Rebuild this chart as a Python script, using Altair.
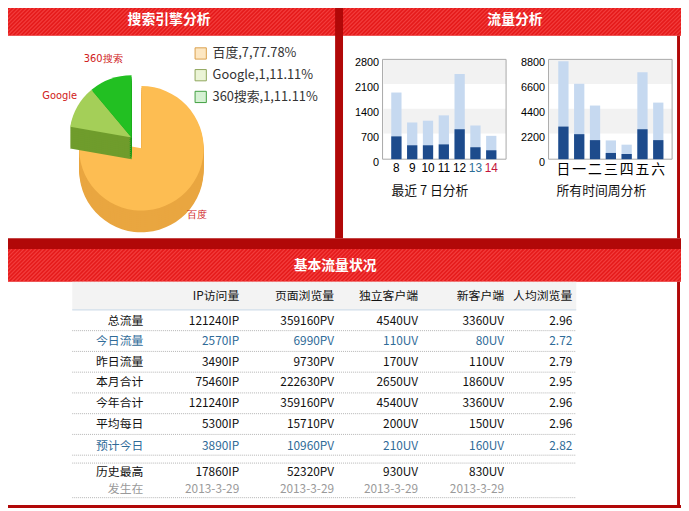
import math
import altair as alt
import numpy as np
import pandas as pd

# ---------------- data ----------------
engines = ["百度", "Google", "360搜索"]
engine_counts = [7, 1, 1]

days = ["8", "9", "10", "11", "12", "13", "14"]
day_pv = [1870, 1030, 1080, 1230, 2390, 945, 655]
day_ip = [640, 390, 390, 415, 840, 335, 250]
day_ticks = [0, 700, 1400, 2100, 2800]

weekdays = ["日", "一", "二", "三", "四", "五", "六"]
week_pv = [8630, 6650, 4730, 1655, 1280, 7670, 4990]
week_ip = [2875, 2205, 1680, 550, 460, 2640, 1680]
week_ticks = [0, 2200, 4400, 6600, 8800]

row_labels = ["总流量", "今日流量", "昨日流量", "本月合计", "今年合计",
              "平均每日", "预计今日", "历史最高", "发生在"]
col_headers = ["IP访问量", "页面浏览量", "独立客户端", "新客户端", "人均浏览量"]
ip_counts = [121240, 2570, 3490, 75460, 121240, 5300, 3890, 17860]
pv_counts = [359160, 6990, 9730, 222630, 359160, 15710, 10960, 52320]
uv_counts = [4540, 110, 170, 2650, 4540, 200, 210, 930]
new_counts = [3360, 80, 110, 1860, 3360, 150, 160, 830]
avg_views = [2.96, 2.72, 2.79, 2.95, 2.96, 2.96, 2.82]
peak_dates = ["2013-3-29", "2013-3-29", "2013-3-29", "2013-3-29"]
highlight_rows = ["今日流量", "预计今日"]

# ---------------- layout helpers ----------------
W, H = 681, 503
OFF = 8  # page margin


def cx(v):
    return v - OFF


def cy(v):
    return v - OFF


REFX = alt.Scale(domain=[OFF, OFF + W], range=[0, W], zero=False, nice=False)
REFY = alt.Scale(domain=[OFF, OFF + H], range=[0, H], zero=False, nice=False)
DUMMY = pd.DataFrame({"k": [0]})

RED = "#e51b1b"
STRIPE = "#ff6060"
DARK = "#b10808"
CJK = "Noto Sans CJK SC"


def rect_layer(rects):
    df = pd.DataFrame(rects, columns=["x1", "y1", "x2", "y2", "c"])
    return alt.Chart(df).mark_rect(strokeWidth=0).encode(
        x=alt.X("x1:Q", scale=REFX, axis=None), x2="x2:Q",
        y=alt.Y("y1:Q", scale=REFY, axis=None), y2="y2:Q",
        fill=alt.Fill("c:N", scale=None))


def frame_layer(rects, color):
    df = pd.DataFrame(rects, columns=["x1", "y1", "x2", "y2"])
    return alt.Chart(df).mark_rect(filled=False, stroke=color, strokeWidth=1).encode(
        x=alt.X("x1:Q", scale=REFX, axis=None), x2="x2:Q",
        y=alt.Y("y1:Q", scale=REFY, axis=None), y2="y2:Q")


def stripe_layer(y_top, y_bot):
    h = y_bot - y_top
    ks = np.arange(0, 689 + h + 4, 4)
    df = pd.DataFrame({"xa": ks, "xb": ks - h})
    return alt.Chart(df).mark_rule(color=STRIPE, strokeWidth=1.2, opacity=0.5).encode(
        x=alt.X("xa:Q", scale=REFX, axis=None), x2="xb:Q",
        y=alt.value(cy(y_top)), y2=alt.value(cy(y_bot)))


def text_at(x, y, s, **kw):
    return alt.Chart(DUMMY).mark_text(text=s, **kw).encode(
        x=alt.value(cx(x)), y=alt.value(cy(y)))


layers = []

# panel backgrounds / headers
layers.append(rect_layer([
    (0, 0, 689, 33, RED),
    (0, 249, 689, 282, RED),
    (73, 282, 583, 310, "#f3f3f3"),
    (388, 57, 512, 82, "#f2f2f2"), (388, 107, 512, 132, "#f2f2f2"),
    (556, 57, 680, 82, "#f2f2f2"), (556, 107, 680, 132, "#f2f2f2"),
]))
layers.append(stripe_layer(0, 33))
layers.append(stripe_layer(249, 282))
layers.append(rect_layer([
    (339, 0, 347, 238, DARK),
    (685, 33, 688, 238, DARK),
    (0, 238, 689, 249, DARK),
    (685, 282, 688, 508, DARK),
    (0, 508, 689, 511, DARK),
]))

# header titles
for (tx, ty, t) in [(171, 17, "搜索引擎分析"), (521, 17, "流量分析"), (339, 266, "基本流量状况")]:
    layers.append(text_at(tx, ty, t, color="white", fontSize=14, fontWeight="bold",
                          font=CJK, baseline="middle", align="center"))

# ---------------- pie ----------------
pie = pd.DataFrame({"engine": engines, "count": engine_counts})
pie["end"] = pie["count"].cumsum()
pie["start"] = pie["end"] - pie["count"]
pie["mid"] = (pie["start"] + pie["end"]) / 2
total = sum(engine_counts)
DEPTH = 22
R = 63
BAIDU_C = (143, 147)
GREEN_C = (133, 136)

theta_scale = alt.Scale(domain=[0, total], range=[0, 2 * math.pi])
top_colors = ["#fdbd52", "#a4cf58", "#22c022"]
side_colors = ["#e9a640", "#6f9c2c", "#159a15"]


def pie_slab(flt, ccx, ccy, dy, colors):
    return alt.Chart(pie).transform_filter(flt).mark_arc(radius=R, strokeWidth=0).encode(
        theta=alt.Theta("start:Q", scale=theta_scale),
        theta2="end:Q",
        x=alt.value(cx(ccx)),
        y=alt.value(cy(ccy) + dy),
        color=alt.Color("engine:N", scale=alt.Scale(domain=engines, range=colors),
                        legend=None))


def pie_label_layer(flt, ccx, ccy, rl):
    return alt.Chart(pie).transform_filter(flt).mark_text(
        radius=rl, font="DejaVu Sans", fontSize=10, color="#d02020").encode(
        theta=alt.Theta("mid:Q", scale=theta_scale),
        x=alt.value(cx(ccx)), y=alt.value(cy(ccy)),
        text="engine:N")


for flt, (pcx, pcy) in [("datum.engine == '百度'", BAIDU_C),
                        ("datum.engine != '百度'", GREEN_C)]:
    for dy in range(DEPTH, 0, -2):
        layers.append(pie_slab(flt, pcx, pcy, dy, side_colors))
    layers.append(pie_slab(flt, pcx, pcy, 0, top_colors))

layers.append(pie_label_layer("datum.engine == '百度'", BAIDU_C[0], BAIDU_C[1], 88))
layers.append(pie_label_layer("datum.engine != '百度'", GREEN_C[0], GREEN_C[1], 84))

# legend
leg = alt.Chart(pie).transform_joinaggregate(total="sum(count)").transform_calculate(
    label="datum.engine + ',' + datum.count + ',' + format(datum.count / datum.total * 100, '.2f') + '%'")
leg_y = alt.Y("engine:N", scale=alt.Scale(type="point", domain=engines,
                                          range=[cy(51), cy(95)], padding=0), axis=None)
layers.append(leg.mark_square(size=130, strokeWidth=1, opacity=1).encode(
    x=alt.value(cx(203)), y=leg_y,
    fill=alt.Fill("engine:N", scale=alt.Scale(domain=engines,
                                              range=["#fde7c2", "#ebf4d6", "#d5f1d3"]), legend=None),
    stroke=alt.Stroke("engine:N", scale=alt.Scale(domain=engines,
                                                  range=["#d9a04b", "#8fa65c", "#3f9e3f"]), legend=None)))
layers.append(leg.mark_text(align="left", baseline="middle", fontSize=13, color="#333333",
                            font=CJK).encode(x=alt.value(cx(215)), y=leg_y, text="label:N"))

# ---------------- bar charts ----------------
layers.append(frame_layer([(387, 57, 512, 158), (555, 57, 680, 158)], "#a8a8a8"))


def bar_layer(cats, pv, ip, ticks, frame_left, band_lo, band_hi, lab_font, lab_size, lab_color):
    df = pd.DataFrame({"cat": cats, "pv": pv, "ip": ip})
    return alt.Chart(df).transform_fold(["pv", "ip"], as_=["metric", "value"]).mark_bar().encode(
        x=alt.X("cat:N",
                scale=alt.Scale(domain=cats, range=[cx(band_lo), cx(band_hi)],
                                paddingInner=0.35, paddingOuter=0.175),
                axis=alt.Axis(orient="bottom", offset=cy(158) - H, labelAngle=0, domain=False,
                              ticks=False, grid=False, labelPadding=3, title=None,
                              labelFont=lab_font, labelFontSize=lab_size, labelColor=lab_color)),
        y=alt.Y("value:Q", stack=None,
                scale=alt.Scale(domain=[0, ticks[-1]], range=[cy(158), cy(57)], nice=False),
                axis=alt.Axis(orient="left", offset=-cx(frame_left), values=ticks, format="d",
                              grid=False, domain=False, ticks=False, labelPadding=4,
                              labelOffset=3, title=None,
                              labelFont="Liberation Sans", labelFontSize=11, labelColor="#000000")),
        color=alt.Color("metric:N", scale=alt.Scale(domain=["pv", "ip"],
                                                    range=["#c6d9f0", "#1d4b8c"]), legend=None))


day_color = alt.ExprRef(expr="datum.value == '13' ? '#2e6e96' : (datum.value == '14' ? '#c4143c' : '#000000')")
layers.append(bar_layer(days, day_pv, day_ip, day_ticks, 387, 393, 505,
                        "Liberation Sans", 12, day_color))
layers.append(bar_layer(weekdays, week_pv, week_ip, week_ticks, 555, 562, 674,
                        CJK, 14, "#000000"))
layers.append(text_at(396, 190, "最近 7 日分析", align="left", baseline="middle",
                      fontSize=13, font=CJK, color="#111111"))
layers.append(text_at(563, 190, "所有时间周分析", align="left", baseline="middle",
                      fontSize=13, font=CJK, color="#111111"))

# ---------------- table ----------------
cells = []
for j, h in enumerate(col_headers):
    cells.append((0, j + 1, h, "head"))
suffixes = ["IP", "PV", "UV", "UV"]
series = [ip_counts, pv_counts, uv_counts, new_counts]
for i, lab in enumerate(row_labels):
    r = i + 1
    style = "hl" if lab in highlight_rows else ("date" if lab == "发生在" else "normal")
    cells.append((r, 0, lab, style))
    if lab == "发生在":
        for j, d in enumerate(peak_dates):
            cells.append((r, j + 1, d, style))
    else:
        for j, (s, suf) in enumerate(zip(series, suffixes)):
            cells.append((r, j + 1, f"{s[i]}{suf}", style))
        if i < len(avg_views):
            cells.append((r, 5, f"{avg_views[i]:.2f}", style))
table_df = pd.DataFrame(cells, columns=["row", "col", "txt", "style"])

col_right = [145, 242, 338, 423, 510, 579]
row_y = [296, 322, 342.5, 363, 384, 405, 426.5, 448, 475, 492]

sep_df = pd.DataFrame({"y": [331.5, 352.5, 373.5, 394.5, 415.5, 436.5, 457.5, 465.5, 500.5]})
layers.append(alt.Chart(sep_df).mark_rule(color="#b5b5b5", strokeDash=[1, 1]).encode(
    y=alt.Y("y:Q", scale=REFY, axis=None), x=alt.value(cx(73)), x2=alt.value(cx(583))))
layers.append(alt.Chart(pd.DataFrame({"y": [310.5]})).mark_rule(color="#c4d4e4").encode(
    y=alt.Y("y:Q", scale=REFY, axis=None), x=alt.value(cx(73)), x2=alt.value(cx(583))))

layers.append(alt.Chart(table_df).mark_text(align="right", baseline="middle", fontSize=12,
                                            font=CJK).encode(
    x=alt.X("col:Q", scale=alt.Scale(domain=list(range(6)), range=[cx(v) for v in col_right],
                                     zero=False, nice=False), axis=None),
    y=alt.Y("row:Q", scale=alt.Scale(domain=list(range(10)), range=[cy(v) for v in row_y],
                                     zero=False, nice=False), axis=None),
    text="txt:N",
    color=alt.Color("style:N", scale=alt.Scale(domain=["head", "normal", "hl", "date"],
                                               range=["#111111", "#111111", "#2f6b98", "#9a9a9a"]),
                    legend=None)))

chart = alt.layer(*layers).resolve_scale(
    x="independent", y="independent", color="independent",
    fill="independent", stroke="independent"
).properties(
    width=W, height=H, padding=0, autosize=alt.AutoSizeParams(type="none")
).configure(background="white", font=CJK).configure_view(stroke=None)

chart.save("out.html", embed_options={"renderer": "svg", "actions": False})
